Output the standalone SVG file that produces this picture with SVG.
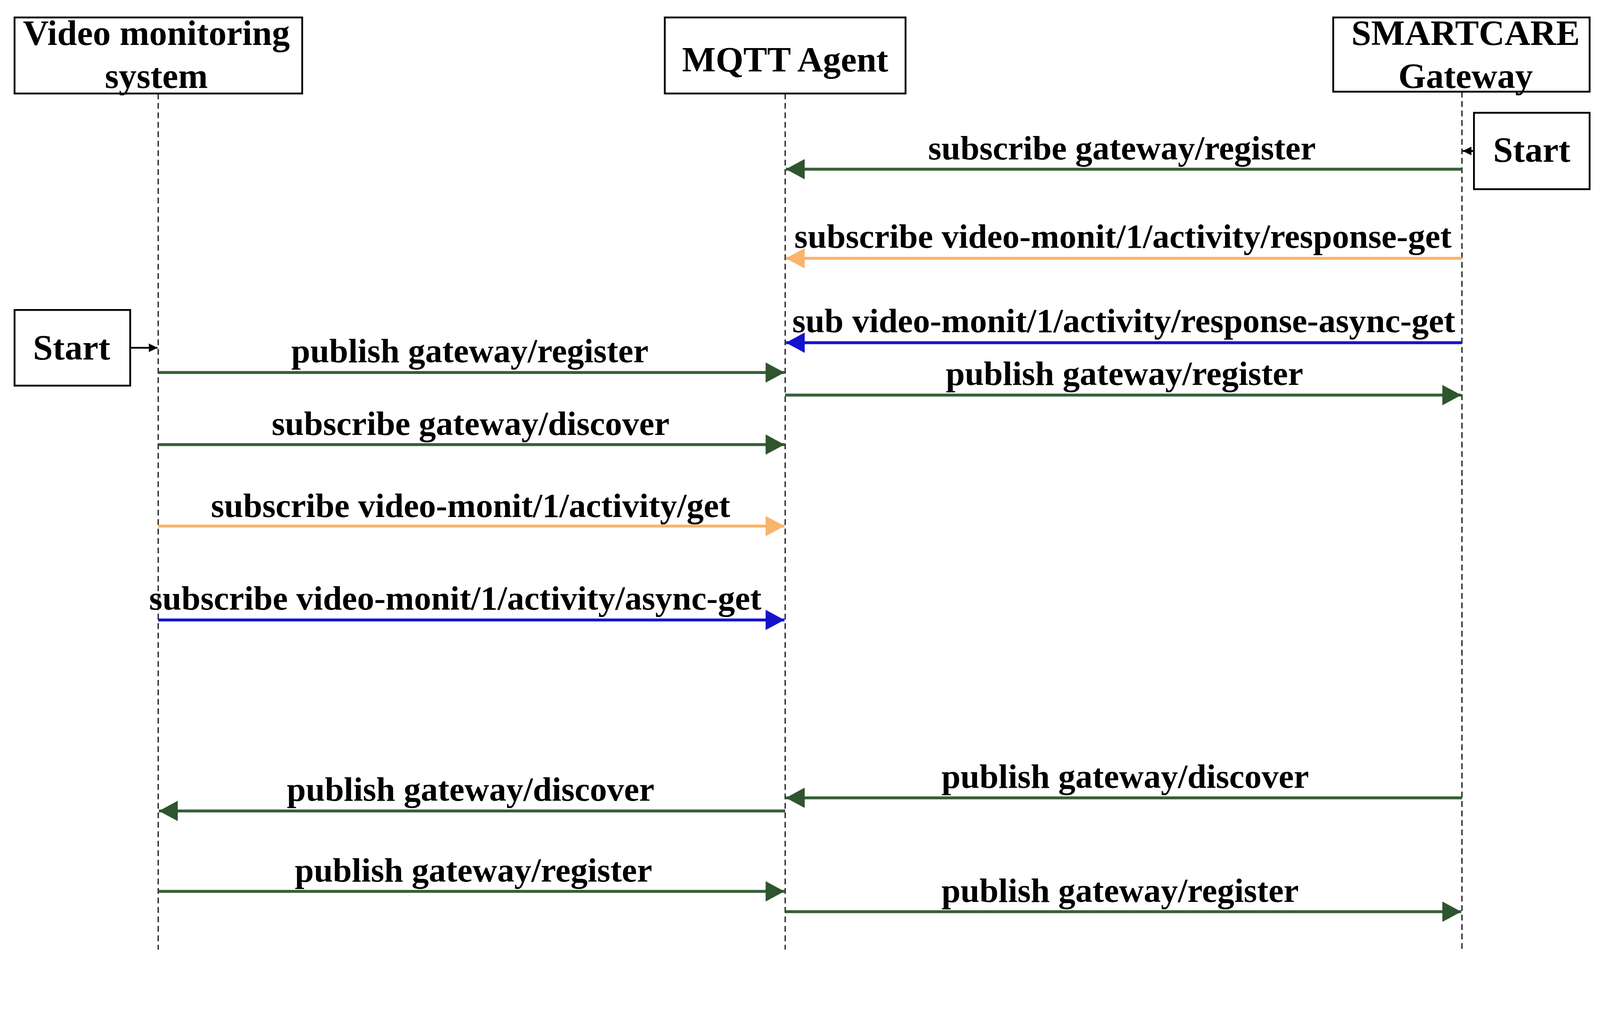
<svg xmlns="http://www.w3.org/2000/svg" width="4402" height="2646" viewBox="0 0 4402 2646">
<style>
text{font-family:"Liberation Serif","Times New Roman",serif;font-weight:bold;fill:#000;text-anchor:middle}
.h{font-size:98px}
.l{font-size:94px}
.box{fill:#fff;stroke:#000;stroke-width:5}
.life{stroke:#000;stroke-width:3;stroke-dasharray:16 10;fill:none}
.g{stroke:#375f37;stroke-width:8;fill:none}
.o{stroke:#f9b46c;stroke-width:8;fill:none}
.b{stroke:#1414cc;stroke-width:8;fill:none}
.k{stroke:#000;stroke-width:5;fill:none}
</style>
<defs>
<marker id="ag" markerUnits="userSpaceOnUse" markerWidth="60" markerHeight="60" refX="52" refY="28" orient="auto"><path d="M0,0 L52,28 L0,56 Z" fill="#2e552e"/></marker>
<marker id="ao" markerUnits="userSpaceOnUse" markerWidth="60" markerHeight="60" refX="52" refY="28" orient="auto"><path d="M0,0 L52,28 L0,56 Z" fill="#f9b46c"/></marker>
<marker id="ab" markerUnits="userSpaceOnUse" markerWidth="60" markerHeight="60" refX="52" refY="28" orient="auto"><path d="M0,0 L52,28 L0,56 Z" fill="#1414cc"/></marker>
<marker id="ak" markerUnits="userSpaceOnUse" markerWidth="30" markerHeight="30" refX="24" refY="12" orient="auto"><path d="M0,0 L24,12 L0,24 Z" fill="#000"/></marker>
</defs>
<g transform="scale(0.931)">
<g id="lifelines">
<line class="life" x1="435" y1="257" x2="435" y2="2610"/>
<line class="life" x1="2159" y1="257" x2="2159" y2="2610"/>
<line class="life" x1="4020" y1="252" x2="4020" y2="2610"/>
</g>
<g id="video"><rect class="box" x="40" y="48" width="791" height="209"/><text class="h" x="430" y="124">Video monitoring</text><text class="h" x="430" y="242">system</text></g>
<g id="mqtt"><rect class="box" x="1828" y="48" width="662" height="209"/><text class="h" x="2159" y="197">MQTT Agent</text></g>
<g id="gateway"><rect class="box" x="3666" y="48" width="705" height="204"/><text class="h" x="4030" y="124">SMARTCARE</text><text class="h" x="4030" y="242">Gateway</text></g>
<g id="start-right"><rect class="box" x="4053" y="310" width="318" height="210"/><text class="h" x="4212" y="445">Start</text></g>
<g id="start-left"><rect class="box" x="40" y="852" width="318" height="208"/><text class="h" x="197" y="988">Start</text></g>
<g id="connectors">
<line class="k" x1="4053" y1="415" x2="4022" y2="415" marker-end="url(#ak)"/>
<line class="k" x1="358" y1="956" x2="433" y2="956" marker-end="url(#ak)"/>
<line class="g" x1="4020" y1="465" x2="2161" y2="465" marker-end="url(#ag)"/>
<text class="l" x="3085" y="438">subscribe gateway/register</text>
<line class="o" x1="4020" y1="710" x2="2161" y2="710" marker-end="url(#ao)"/>
<text class="l" x="3088" y="681">subscribe video-monit/1/activity/response-get</text>
<line class="b" x1="4020" y1="942" x2="2161" y2="942" marker-end="url(#ab)"/>
<text class="l" x="3090" y="913">sub video-monit/1/activity/response-async-get</text>
<line class="g" x1="435" y1="1024" x2="2157" y2="1024" marker-end="url(#ag)"/>
<text class="l" x="1292" y="996">publish gateway/register</text>
<line class="g" x1="2159" y1="1086" x2="4018" y2="1086" marker-end="url(#ag)"/>
<text class="l" x="3092" y="1058">publish gateway/register</text>
<line class="g" x1="435" y1="1222" x2="2157" y2="1222" marker-end="url(#ag)"/>
<text class="l" x="1294" y="1195">subscribe gateway/discover</text>
<line class="o" x1="435" y1="1446" x2="2157" y2="1446" marker-end="url(#ao)"/>
<text class="l" x="1294" y="1421">subscribe video-monit/1/activity/get</text>
<line class="b" x1="435" y1="1704" x2="2157" y2="1704" marker-end="url(#ab)"/>
<text class="l" x="1252" y="1676">subscribe video-monit/1/activity/async-get</text>
<line class="g" x1="4020" y1="2193" x2="2161" y2="2193" marker-end="url(#ag)"/>
<text class="l" x="3094" y="2165">publish gateway/discover</text>
<line class="g" x1="2159" y1="2229" x2="437" y2="2229" marker-end="url(#ag)"/>
<text class="l" x="1294" y="2201">publish gateway/discover</text>
<line class="g" x1="435" y1="2450" x2="2157" y2="2450" marker-end="url(#ag)"/>
<text class="l" x="1302" y="2423">publish gateway/register</text>
<line class="g" x1="2159" y1="2506" x2="4018" y2="2506" marker-end="url(#ag)"/>
<text class="l" x="3080" y="2479">publish gateway/register</text>
</g>
</g>
</svg>
